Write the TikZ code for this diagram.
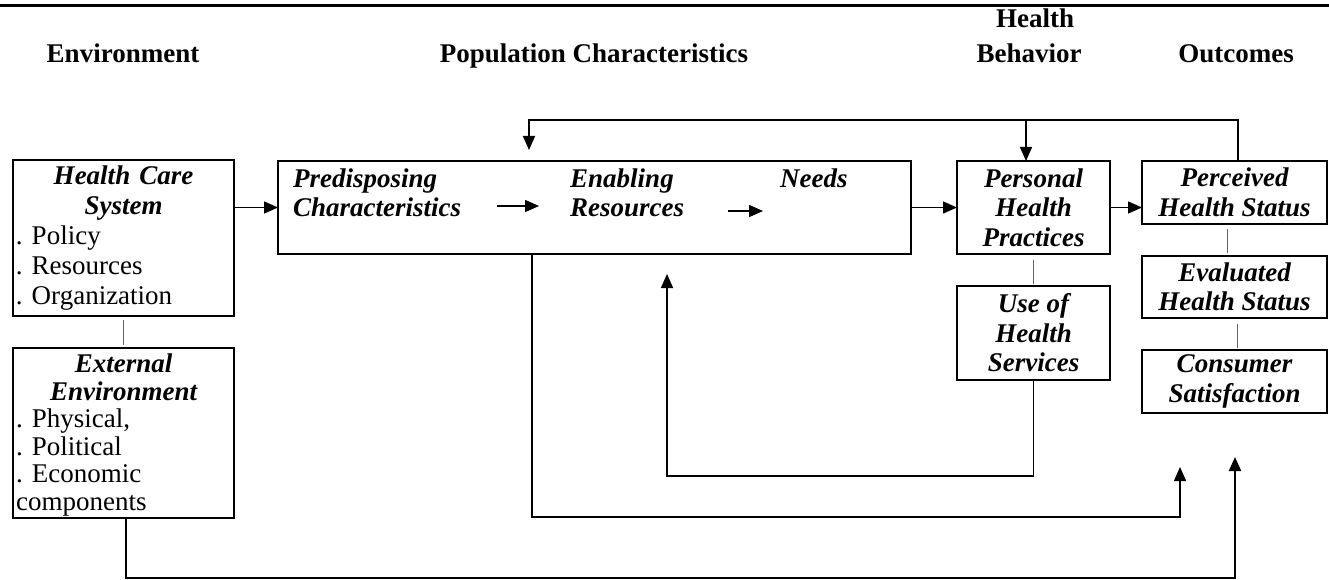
\documentclass[tikz,border=0pt]{standalone}
\usepackage{fontspec}
\setmainfont{Liberation Serif}
\usetikzlibrary{arrows.meta}
\begin{document}
\frenchspacing
\begin{tikzpicture}[x=1pt,y=-1pt,
  every node/.style={font=\fontsize{27}{30}\selectfont},
  box/.style={draw, line width=2pt, inner sep=0pt, outer sep=0pt, anchor=north west},
  head/.style={font=\fontsize{27}{35}\selectfont\bfseries, inner sep=0pt, anchor=base},
  ttl/.style={font=\fontsize{27}{29.5}\selectfont\bfseries\itshape, align=center},
  lbl/.style={font=\fontsize{27}{29}\selectfont\bfseries\itshape, align=left, text width=200pt, inner sep=0pt, anchor=base west},
  conn/.style={line width=1.5pt, -{Triangle[length=14pt,width=12pt]}},
  link/.style={line width=1pt, draw=black!60}]
\useasboundingbox (0,0) rectangle (1329,580);
% top rule
\coordinate (ruleL) at (0,6);
\coordinate (ruleR) at (1329,6);
\draw[line width=3pt] (ruleL) -- (ruleR);
% headers
\node[head] (henv) at (123,63) {Environment};
\node[head] (hpop) at (594,63) {Population Characteristics};
\node[head] (hbeh1) at (1035,28) {Health};
\node[head] (hbeh2) at (1029,63) {Behavior};
\node[head] (hout) at (1236,63) {Outcomes};
% environment boxes
\node[box, minimum width=221pt, minimum height=156pt, text width=215pt, align=left] (hcs) at (13,160)
  {{\centering\bfseries\itshape Health Care\\System\par}. Policy\\. Resources\\. Organization};
\node[box, minimum width=221pt, minimum height=170pt] (ee) at (13,348) {};
\node[anchor=north west, inner sep=0pt, text width=215pt, align=left,
      font=\fontsize{27}{27.5}\selectfont] (eetxt) at (16,354)
  {{\centering\bfseries\itshape External\\Environment\par}. Physical,\\. Political\\. Economic\\components};
% population box
\node[box, minimum width=633pt, minimum height=93pt] (pop) at (278,161) {};
\node[lbl] (pred) at (293,187) {Predisposing\\Characteristics};
\node[lbl] (enab) at (570,187) {Enabling\\Resources};
\node[lbl] (need) at (780,187) {Needs};
\coordinate (a1s) at (497,206);
\coordinate (a1e) at (539,206);
\coordinate (a2s) at (728,211);
\coordinate (a2e) at (763,211);
\draw[conn] (a1s) -- (a1e);
\draw[conn] (a2s) -- (a2e);
% health behaviour
\node[box, ttl, minimum width=153pt, minimum height=93pt] (php) at (957,161) {Personal\\Health\\Practices};
\node[box, ttl, minimum width=153pt, minimum height=94pt] (uhs) at (957,286) {Use of\\Health\\Services};
% outcomes
\node[box, ttl, minimum width=185pt, minimum height=63pt] (perc) at (1142,161) {Perceived\\Health Status};
\node[box, ttl, minimum width=185pt, minimum height=62pt] (eval) at (1142,256) {Evaluated\\Health Status};
\node[box, ttl, minimum width=185pt, minimum height=63pt] (cons) at (1142,350) {Consumer\\Satisfaction};
% main flow
\draw[conn] (hcs.east |- pop.west) -- (pop.west);
\draw[conn] (pop.east) -- (php.west);
\draw[conn] (php.east) -- (perc.west |- php.east);
% grey links
\coordinate (lk1) at (1227,0);
\coordinate (lk2) at (1237,0);
\draw[link, shorten <=4pt, shorten >=3pt] (hcs.south) -- (ee.north);
\draw[link, shorten <=6pt, shorten >=2pt] (php.south) -- (uhs.north);
\draw[link, shorten <=5pt, shorten >=3pt] (perc.south -| lk1) -- (eval.north -| lk1);
\draw[link, shorten <=6pt, shorten >=2pt] (eval.south -| lk2) -- (cons.north -| lk2);
% top feedback
\coordinate (fbR) at (1238,120);
\coordinate (fbM) at (1026,120);
\coordinate (fbL) at (529,120);
\coordinate (fbTip) at (529,150);
\draw[conn] (perc.north -| fbR) -- (fbR) -- (fbL) -- (fbTip);
\draw[conn] (fbM) -- (fbM |- php.north);
% bottom loops
\coordinate (l1) at (667,476);
\coordinate (l1tip) at (667,274);
\draw[conn] (uhs.south) -- (uhs.south |- l1) -- (l1) -- (l1tip);
\coordinate (l2) at (532,517);
\coordinate (l2tip) at (1180,467);
\draw[conn] (pop.south -| l2) -- (l2) -- (l2 -| l2tip) -- (l2tip);
\coordinate (l3) at (126,578);
\coordinate (l3tip) at (1235,457);
\draw[conn, line width=2pt] (ee.south -| l3) -- (l3) -- (l3 -| l3tip) -- (l3tip);
\end{tikzpicture}
\end{document}
